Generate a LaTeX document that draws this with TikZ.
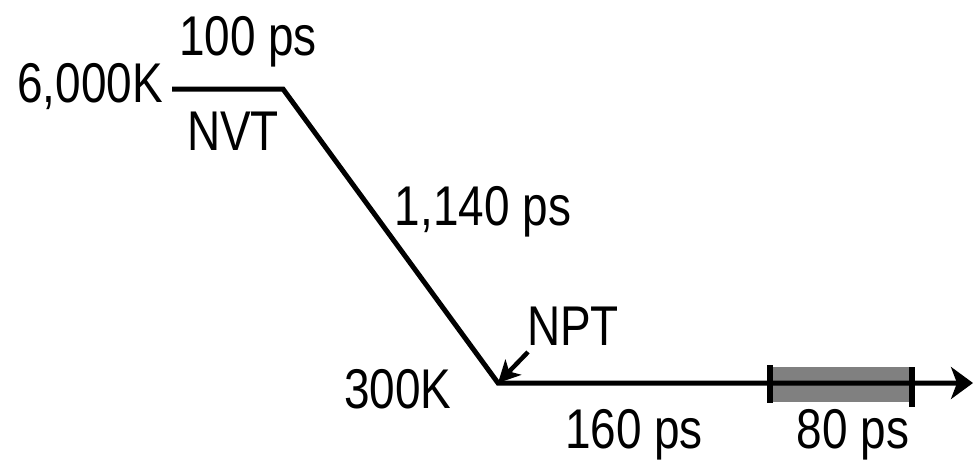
\documentclass[tikz,border=0pt]{standalone}
\usepackage{fontspec}
\setmainfont{Liberation Sans}[FakeStretch=0.82]
\usetikzlibrary{arrows.meta}
\definecolor{bargray}{HTML}{808080}
\begin{document}
\begin{tikzpicture}[x=1pt,y=-1pt,
  lbl/.style={inner sep=0pt, anchor=base, font=\fontsize{56}{60}\selectfont},
  trace/.style={line width=5pt, line join=miter},
  tick/.style={line width=6pt},
  pointer/.style={line width=4.5pt, -{Stealth[length=22pt,width=22pt,inset=6pt]}}]
\useasboundingbox (0,0) rectangle (974,463);

% temperature schedule
\coordinate (start) at (172,89);
\coordinate (hotend) at (283,89);
\coordinate (cold) at (498,383);
\coordinate (tend) at (973,383);

% sampling window
\fill[bargray] (773,367) rectangle (909,402);
\draw[trace, -{Stealth[length=22pt,width=32pt,inset=6pt]}] (start) -- (hotend) -- (cold) -- (tend);
\coordinate (w1a) at (770,365); \coordinate (w1b) at (770,403);
\coordinate (w2a) at (912,367); \coordinate (w2b) at (912,407);
\draw[tick] (w1a) -- (w1b);
\draw[tick] (w2a) -- (w2b);

% labels
\node[lbl] (thot) at (90,102) {6,000K};
\node[lbl] (thold) at (248,55) {100 ps};
\node[lbl] (nvt) at (233,150) {NVT};
\node[lbl] (tramp) at (483,225) {1,140 ps};
\node[lbl] (npt) at (573,345) {NPT};
\node[lbl] (tcold) at (398,408) {300K};
\node[lbl] (teq) at (634,448) {160 ps};
\node[lbl] (tsamp) at (853,448) {80 ps};

% NPT pointer
\coordinate (ptail) at (528,352);
\draw[pointer] (ptail) -- (cold);
\end{tikzpicture}
\end{document}
